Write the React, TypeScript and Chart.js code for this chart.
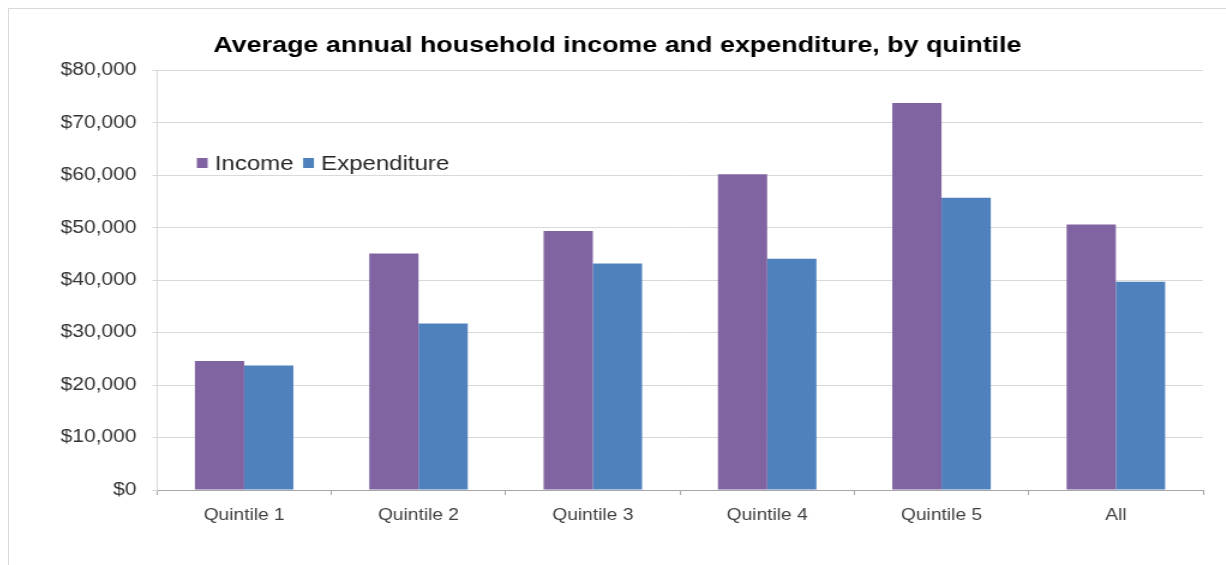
import React, { useEffect, useRef } from "react";
import { Chart, registerables } from "chart.js";

Chart.register(...registerables);

const categories = ["Quintile 1", "Quintile 2", "Quintile 3", "Quintile 4", "Quintile 5", "All"];
const incomeValues = [24600, 45100, 49400, 60200, 73800, 50600];
const expenditureValues = [23750, 31750, 43200, 44100, 55700, 39700];
const seriesLabels = ["Income", "Expenditure"];
const titleText = "Average annual household income and expenditure, by quintile";
const yMin = 0;
const yMax = 80000;
const yStep = 10000;

const FONT = '"Liberation Sans", Arial, sans-serif';
const SX = 1.2;

const legendPlugin = {
  id: "insideLegend",
  afterDraw(chart: any) {
    const ctx = chart.ctx;
    ctx.save();
    ctx.font = `20px ${FONT}`;
    ctx.textBaseline = "middle";
    ctx.textAlign = "left";
    let x = 156.5;
    const cy = 154;
    chart.data.datasets.forEach((ds: any) => {
      ctx.fillStyle = ds.backgroundColor;
      ctx.fillRect(x, cy - 5, 9, 10);
      x += 15;
      ctx.fillStyle = "#262626";
      ctx.fillText(ds.label, x, cy + 1);
      x += ctx.measureText(ds.label).width + 8;
    });
    ctx.restore();
  },
};

export default function App() {
  const canvasRef = useRef<HTMLCanvasElement | null>(null);

  useEffect(() => {
    if (!canvasRef.current) return;
    const chart = new Chart(canvasRef.current, {
      type: "bar",
      data: {
        labels: categories,
        datasets: [
          {
            label: seriesLabels[0],
            data: incomeValues,
            backgroundColor: "#8064A2",
            categoryPercentage: 0.565,
            barPercentage: 1.0,
          },
          {
            label: seriesLabels[1],
            data: expenditureValues,
            backgroundColor: "#4F81BD",
            categoryPercentage: 0.565,
            barPercentage: 1.0,
          },
        ],
      },
      options: {
        animation: false,
        responsive: true,
        maintainAspectRatio: false,
        events: [],
        layout: { padding: { left: 19, right: 19, top: 0, bottom: 0 } },
        plugins: {
          legend: { display: false },
          tooltip: { enabled: false },
          title: {
            display: true,
            text: titleText,
            color: "#000000",
            font: { family: FONT, size: 22.4, weight: "bold", lineHeight: 1.2 },
            padding: { top: 23.5, bottom: 11 },
          },
        },
        scales: {
          x: {
            grid: {
              display: true,
              drawOnChartArea: false,
              drawTicks: true,
              tickLength: 5,
              color: "#a6a6a6",
              offset: true,
            },
            border: { display: true, color: "#a6a6a6", width: 1 },
            ticks: {
              color: "#404040",
              font: { family: FONT, size: 16 },
              padding: 11,
              maxRotation: 0,
            },
            afterFit(scale: any) {
              scale.height = 67;
            },
          },
          y: {
            min: yMin,
            max: yMax,
            grid: {
              color: "#d9d9d9",
              drawTicks: true,
              tickLength: 4,
            },
            border: { display: true, color: "#d9d9d9", width: 1 },
            ticks: {
              stepSize: yStep,
              color: "#333333",
              font: { family: FONT, size: 17.5 },
              padding: 13,
              callback: (v: any) => "$" + Number(v).toLocaleString("en-US"),
            },
            afterFit(scale: any) {
              scale.width = 104.3;
            },
          },
        },
      },
      plugins: [legendPlugin],
    });
    return () => chart.destroy();
  }, []);

  return (
    <div
      style={{
        position: "fixed",
        left: 8,
        top: 8,
        width: 1218,
        height: 557,
        overflow: "hidden",
        borderLeft: "1px solid #d9d9d9",
        borderTop: "1px solid #d9d9d9",
        background: "#ffffff",
      }}
    >
      <div
        style={{
          width: 1014,
          height: 548,
          transform: `scaleX(${SX})`,
          transformOrigin: "0 0",
          position: "relative",
        }}
      >
        <canvas ref={canvasRef} />
      </div>
    </div>
  );
}
